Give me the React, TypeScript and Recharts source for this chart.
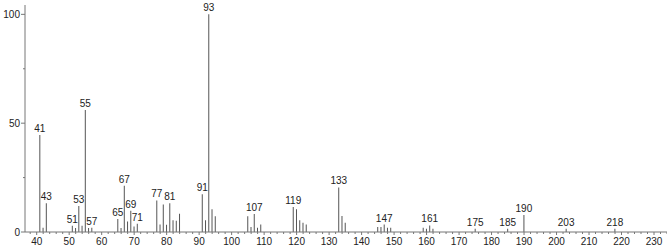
import React from 'react';
import { BarChart, Bar, XAxis, YAxis, LabelList } from 'recharts';

// m/z values and relative intensities
const mz = [
  41, 42, 43, 51, 52, 53, 54, 55, 56, 57,
  65, 66, 67, 68, 69, 70, 71, 77, 78, 79,
  80, 81, 82, 83, 84, 91, 92, 93, 94, 95,
  105, 106, 107, 108, 109, 119, 120, 121, 122, 123,
  133, 134, 135, 145, 146, 147, 148, 149, 159, 160,
  161, 162, 175, 185, 190, 203, 218,
];
const intensity = [
  44.6, 2, 13.2, 2.9, 1.8, 12, 2.9, 56, 1.8, 2,
  6, 1.8, 21.3, 4.8, 9.8, 2.5, 3.8, 14.5, 3.4, 12.6,
  3.3, 13.2, 5.4, 5.2, 8.4, 17.4, 5.4, 100, 10.4, 7.2,
  7.2, 2.3, 8.3, 2, 3.4, 11.5, 10.4, 5.4, 4.2, 3.4,
  20.5, 7.3, 4.2, 2.3, 2.3, 3.4, 2, 2, 2, 1.5,
  3, 1.5, 1.5, 1.5, 7.8, 1.5, 1.5,
];
const labelled = [41, 43, 51, 53, 55, 57, 65, 67, 69, 71, 77, 81, 91, 93, 107, 119, 133, 147, 161, 175, 185, 190, 203, 218];

const xTicks = [40, 50, 60, 70, 80, 90, 100, 110, 120, 130, 140, 150, 160, 170, 180, 190, 200, 210, 220, 230];
const yTicks = [0, 50, 100];
const yMinorTicks = [25, 75];
// minor ticks every 2 units along m/z
const xAllTicks = Array.from({ length: 99 }, (_, i) => 38 + i * 2);
const yAllTicks = [...yTicks, ...yMinorTicks].sort((a, b) => a - b);

const data = mz.map((m, i) => ({
  mz: m,
  value: intensity[i],
  label: labelled.includes(m) ? String(m) : '',
}));

const font = "'Liberation Sans Narrow', 'Liberation Sans', Arial, sans-serif";
const axisColor = '#777';
const textColor = '#222';

const XTick = (props: any) => {
  const { x, y, payload } = props;
  const major = xTicks.includes(payload.value);
  return (
    <g>
      <line x1={x} x2={x} y1={y} y2={y + (major ? 3 : 2)} stroke={axisColor} />
      {major && (
        <text x={x} y={y + 6} dy="0.71em" textAnchor="middle" fill={textColor} fontSize={10} fontFamily={font}>
          {payload.value}
        </text>
      )}
    </g>
  );
};

const YTick = (props: any) => {
  const { x, y, payload } = props;
  const major = yTicks.includes(payload.value);
  return (
    <g>
      <line x1={x - (major ? 4 : 2)} x2={x} y1={y} y2={y} stroke={axisColor} />
      {major && (
        <text x={x - 5} y={y} dy="0.355em" textAnchor="end" fill={textColor} fontSize={10} fontFamily={font}>
          {payload.value}
        </text>
      )}
    </g>
  );
};

const App = () => {
  return (
    <div style={{ width: 667, height: 249 }}>
      <style>{'body{margin:0}'}</style>
      <BarChart
        width={667}
        height={249}
        data={data}
        margin={{ top: 5, right: 0, left: 0, bottom: 0 }}
        barGap={0}
      >
        <XAxis
          dataKey="mz"
          type="number"
          domain={[36.4, 234]}
          allowDataOverflow
          ticks={xAllTicks}
          interval={0}
          height={17}
          tickSize={0}
          tickMargin={0}
          tickLine={false}
          stroke={axisColor}
          tick={<XTick />}
        />
        <YAxis
          type="number"
          domain={[0, 104.3]}
          ticks={yAllTicks}
          interval={0}
          width={25}
          tickSize={0}
          tickMargin={0}
          tickLine={false}
          stroke={axisColor}
          tick={<YTick />}
        />
        <Bar dataKey="value" fill="#555" barSize={1} isAnimationActive={false}>
          <LabelList
            dataKey="label"
            position="top"
            offset={3}
            style={{ fill: textColor, fontSize: 10, fontFamily: font }}
          />
        </Bar>
      </BarChart>
    </div>
  );
};

export default App;
